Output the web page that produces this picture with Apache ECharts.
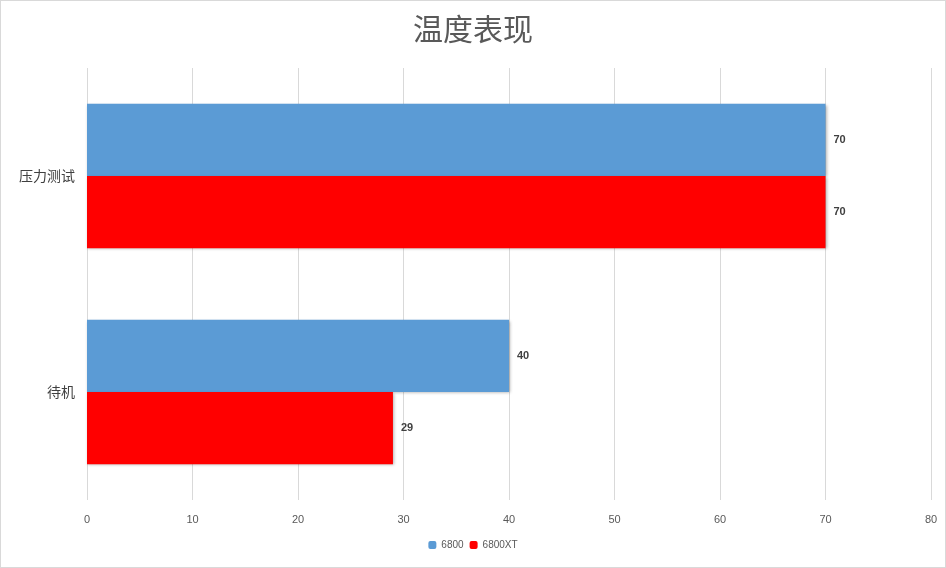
<!DOCTYPE html>
<html>
<head>
<meta charset="utf-8">
<script src="https://cdn.jsdelivr.net/npm/echarts@6/dist/echarts.min.js"></script>
<style>
html,body{margin:0;padding:0;background:#fff;}
#chart{width:944px;height:566px;border:1px solid #d9d9d9;}
</style>
</head>
<body>
<div id="chart"></div>
<script>
var categories = ['压力测试', '待机'];
var series6800 = [70, 40];
var series6800XT = [70, 29];

var chart = echarts.init(document.getElementById('chart'));
var labelStyle = {show: true, position: 'right', distance: 8, color: '#404040', fontSize: 11, fontWeight: 'bold'};
var option = {
    animation: false,
    title: {
        text: '温度表现', left: 'center', top: 8,
        textStyle: {fontSize: 30, color: '#595959', fontWeight: 'normal', fontFamily: 'Noto Sans CJK SC'}
    },
    legend: {
        bottom: 12, itemWidth: 8, itemHeight: 8, itemGap: 6,
        textStyle: {fontSize: 10, color: '#595959'},
        data: ['6800', '6800XT']
    },
    grid: {left: 86, right: 14, top: 67, bottom: 67},
    xAxis: {
        type: 'value', min: 0, max: 80, interval: 10,
        axisLabel: {color: '#595959', fontSize: 11, margin: 14},
        splitLine: {lineStyle: {color: '#d9d9d9'}}
    },
    yAxis: {
        type: 'category', inverse: true, data: categories,
        axisTick: {show: false},
        axisLine: {show: false},
        axisLabel: {color: '#404040', fontSize: 14, margin: 12, fontFamily: 'Noto Sans CJK SC'}
    },
    series: [{
        name: '6800', type: 'bar', data: series6800,
        barGap: '0%', barCategoryGap: '33%',
        itemStyle: {color: '#5b9bd5', shadowColor: 'rgba(0,0,0,0.3)', shadowBlur: 3, shadowOffsetX: 1, shadowOffsetY: 1},
        label: labelStyle
    }, {
        name: '6800XT', type: 'bar', data: series6800XT,
        itemStyle: {color: '#ff0000', shadowColor: 'rgba(0,0,0,0.3)', shadowBlur: 3, shadowOffsetX: 1, shadowOffsetY: 1},
        label: labelStyle
    }]
};
chart.setOption(option);
</script>
</body>
</html>
